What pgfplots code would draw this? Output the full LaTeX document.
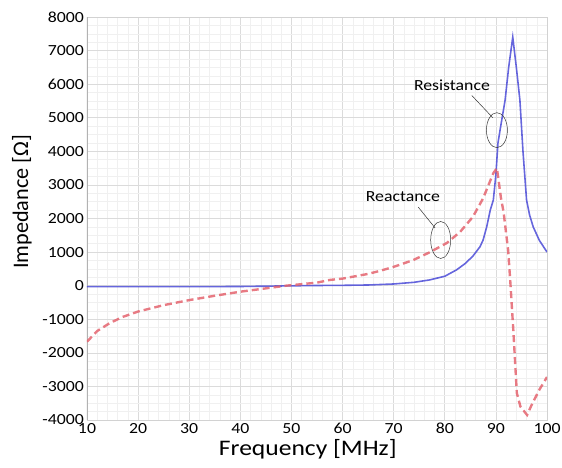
\documentclass[border=0pt]{standalone}
\usepackage{fontspec}
\setmainfont{Carlito}[FakeStretch=1.15]
\newfontfamily\plainfont{Carlito}
\usepackage{pgfplots}
\pgfplotsset{compat=1.18}
\definecolor{resblue}{RGB}{75,75,215}
\definecolor{reacred}{RGB}{228,100,110}
\begin{document}
\begin{tikzpicture}[x=1bp,y=1bp]
\useasboundingbox (-87,-48) rectangle (475,420);
\begin{axis}[
 at={(0,0)}, anchor=south west,
 scale only axis, width=460bp, height=403bp,
 xmin=10, xmax=100, ymin=-4000, ymax=8000,
 xtick={10,20,...,100}, ytick={-4000,-3000,...,8000},
 minor x tick num=4, minor y tick num=3,
 grid=both,
 major grid style={gray!28, line width=0.6pt},
 minor grid style={gray!12, line width=0.5pt},
 major tick length=0pt, minor tick length=0pt,
 axis line style={gray!35},
 tick label style={font=\fontsize{15.5}{18}\selectfont},
 xticklabel style={inner sep=1pt, yshift=-2bp},
 yticklabel style={inner sep=1pt, xshift=-2bp},
 /pgf/number format/assume math mode=true,
 /pgf/number format/set thousands separator={},
 xlabel={Frequency [MHz]}, ylabel={Impedance [Ω]},
 xlabel style={font=\fontsize{22.3}{24}\selectfont, at={(axis description cs:0.48,-0.089)}, anchor=base},
 ylabel style={font=\plainfont\fontsize{22.3}{24}\selectfont, at={(axis description cs:-0.128,0.541)}, anchor=base},
 clip=true,
]
\draw[gray!60, line width=1.8pt] (rel axis cs:0,0) -- (rel axis cs:0,1);
\addplot[resblue, line width=1.6pt, opacity=0.85] coordinates {
(10,-30)(20,-30)(30,-30)(40,-25)(45,-15)(50,-5)(55,5)(60,10)(65,20)(70,50)
(74,100)(77,170)(80,280)(82.3,470)(84,660)(85.5,880)(86.9,1160)(87.5,1360)
(88.2,1750)(88.9,2250)(89.5,2550)(90,3300)(90.4,4240)(91,4800)(91.8,5520)
(92.5,6500)(93.3,7400)(94,6500)(94.7,5520)(95.3,4000)(96,2550)(96.6,2100)
(97.3,1750)(98.5,1350)(100,1000)};
\addplot[reacred, line width=2.4pt, opacity=0.85, dash pattern=on 7bp off 4bp] coordinates {
(10,-1670)(12,-1350)(14.5,-1110)(17,-930)(20,-770)(25,-580)(30,-430)(35,-300)
(40,-180)(45,-80)(49,0)(55,90)(57.5,170)(60,210)(65,350)(67.3,440)(70,560)
(73.8,760)(77,990)(80.4,1270)(83,1600)(85.5,2050)(87.5,2600)(89.5,3350)
(90.2,3500)(91,2600)(91.5,2200)(92.4,1050)(92.8,170)(93.4,-1300)(94.1,-3200)
(94.8,-3600)(96.1,-3850)(97,-3550)(98.5,-3100)(100,-2720)};
\node[font=\fontsize{15.5}{17}\selectfont] at (axis cs:81.4,5970) {Resistance};
\draw[black!80, line width=0.5pt] (axis cs:90.2,4630) ellipse [x radius=10.5bp, y radius=17.5bp];
\draw[black!80, line width=0.5pt] (axis cs:85.3,5660) -- (axis cs:89.4,5000);
\node[font=\fontsize{15.5}{17}\selectfont] at (axis cs:71.8,2640) {Reactance};
\draw[black!80, line width=0.5pt] (axis cs:79.2,1360) ellipse [x radius=10bp, y radius=18.5bp];
\draw[black!80, line width=0.5pt] (axis cs:74.8,2340) -- (axis cs:78.1,1720);
\end{axis}
\end{tikzpicture}
\end{document}
